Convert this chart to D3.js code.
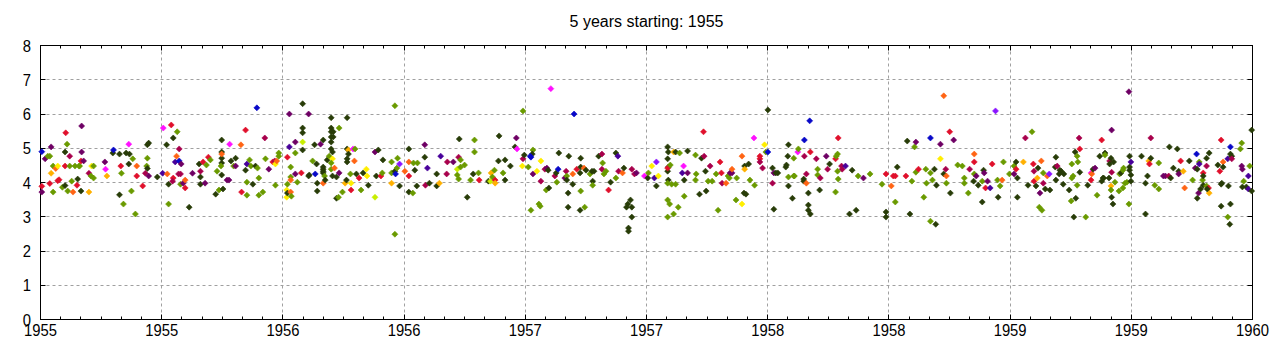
<!DOCTYPE html>
<html><head><meta charset="utf-8">
<script src="https://cdn.jsdelivr.net/npm/d3@7"></script>
<style>body{margin:0;background:#fff}svg{display:block}</style>
</head><body>
<svg id="chart" width="1280" height="350"></svg>
<script>
const chartTitle = "5 years starting: 1955";
const xTickLabels = ["1955","1955","1956","1956","1957","1957","1958","1958","1959","1959","1960"];
const yTickValues = [0,1,2,3,4,5,6,7,8];
// days since 1955-01-01
const eventDay = [
2,2,2,7,16,14,11,14,16,19,19,23,26,26,28,33,37,37,38,40,37,41,44,44,47,49,52,55,56,58,59,61,61,62,62,65,73,73,76,77,80,80,97,98,100,109,110,119,119,121,122,125,129,133,133,134,137,139,143,145,145,154,158,160,161,161,161,163,163,176,184,185,190,191,193,193,197,200,200,199,203,205,206,209,209,208,211,212,211,215,218,218,224,229,239,241,241,241,245,248,250,253,256,
273,273,273,273,273,272,266,273,264,269,275,281,284,285,287,291,294,294,302,303,309,309,311,311,311,315,317,320,324,326,327,329,329,335,338,339,344,350,353,354,356,354,359,359,371,371,372,372,372,375,375,377,377,377,377,378,384,384,384,387,393,395,395,395,395,395,404,404,405,410,413,414,416,417,417,422,426,426,426,426,426,428,426,429,432,435,438,438,438,438,438,438,441,441,440,440,438,438,443,440,446,446,449,450,450,455,459,461,462,462,462,462,464,464,467,468,468,471,474,473,476,480,483,486,491,492,494,504,504,509,506,513,515,516,
534,534,529,529,529,534,535,537,538,541,541,549,555,555,555,555,561,562,564,567,568,579,579,580,583,586,597,597,601,603,612,613,622,630,631,628,628,630,633,633,639,643,648,652,654,654,660,661,675,678,679,681,684,685,685,690,691,697,700,700,708,715,717,718,726,727,727,729,735,739,742,742,741,738,739,748,751,753,754,754,760,763,765,762,766,769,775,777,778,780,781,
790,792,793,793,795,795,796,802,802,804,808,813,814,814,814,813,819,820,822,828,831,832,832,834,841,846,846,847,849,852,856,859,867,870,867,871,877,879,883,885,889,891,891,886,886,891,895,898,910,915,916,921,925,928,928,931,945,946,945,946,945,946,945,949,945,945,948,945,951,954,957,957,954,961,963,969,967,970,970,975,975,987,988,987,993,996,999,1000,1003,1002,1006,1009,1012,1018,1021,1024,1026,1027,1033,1036,1038,1039,1042,1042,
1049,1048,1057,1057,1061,1061,1060,1063,1067,1069,1075,1076,1084,1084,1084,1088,1091,1093,1096,1096,1103,1103,1105,1108,1111,1105,1123,1124,1126,1127,1127,1127,1133,1135,1135,1136,1141,1142,1150,1150,1151,1151,1154,1154,1157,1157,1157,1160,1159,1160,1169,1171,1171,1174,1175,1184,1186,1189,1198,1198,1199,1201,1201,1202,1202,1207,1208,1213,1219,1223,1229,1232,1240,1250,1268,1274,1274,1274,1282,1285,1288,1288,1291,1304,1306,
1310,1313,1317,1319,1319,1323,1331,1334,1335,1341,1341,1341,1344,1347,1349,1350,1356,1356,1361,1361,1364,1365,1365,1370,1371,1376,1382,1389,1392,1392,1398,1400,1406,1407,1407,1407,1410,1413,1419,1419,1421,1422,1424,1427,1431,1434,1439,1442,1443,1446,1449,1451,1460,1467,1467,1470,1470,1472,1472,1481,1484,1488,1494,1496,1497,1497,1500,1502,1503,1506,1508,1511,1511,1514,1517,1520,1521,1505,1509,1529,1530,1532,1530,1536,1538,1535,1541,1542,1550,1553,1554,1554,1556,1559,1560,1557,1562,1562,1563,1565,1566,1566,
1575,1578,1583,1584,1583,1586,1589,1592,1596,1599,1599,1601,1602,1604,1604,1610,1611,1611,1613,1614,1614,1613,1613,1614,1616,1617,1619,1625,1626,1628,1631,1631,1632,1634,1637,1640,1640,1641,1641,1641,1643,1643,1643,1659,1665,1665,1668,1670,1671,1673,1673,1679,1685,1685,1692,1695,1700,1703,1701,1707,1713,1715,1715,1718,1722,1724,1731,1736,1740,1742,1743,1746,1746,1745,1743,1748,1751,1752,1752,1752,1757,1757,1757,1760,1761,1761,1758,1774,1777,1779,1779,1779,1780,1782,1782,1789,1789,1790,1792,1793,1793,1793,1795,1795,1808,1810,1810,1811,1813,1811,1817,1820,1820,1822,1825,1825
];
const magnitude = [
4.90,3.89,3.72,4.69,5.04,3.97,4.77,4.77,4.27,3.72,4.48,4.41,4.48,4.05,4.08,3.86,3.91,4.48,5.45,5.12,4.89,3.75,4.77,4.48,4.04,3.72,4.48,3.92,4.10,4.48,4.48,3.75,4.63,4.89,5.65,4.63,4.27,3.72,4.19,4.48,4.48,4.13,4.60,4.39,4.19,4.86,4.95,4.83,3.64,4.48,4.27,3.37,4.86,5.12,4.54,4.83,3.75,4.69,3.08,4.48,4.19,3.90,4.27,4.48,4.41,4.71,5.10,5.15,4.19,4.16,4.27,5.59,5.10,4.25,3.95,3.37,5.68,5.30,4.13,4.04,4.60,4.77,5.48,4.98,4.63,4.25,4.25,4.54,3.95,3.98,4.07,3.84,3.28,4.27,4.54,4.16,4.33,3.95,4.60,3.98,4.51,4.74,4.66,
5.24,4.89,4.71,4.57,4.83,4.48,4.33,4.22,3.66,3.78,3.81,4.07,4.07,5.12,4.63,4.48,4.71,4.48,5.10,3.72,5.53,4.36,4.54,4.01,3.63,4.66,4.48,3.95,4.48,6.18,4.42,4.13,3.63,3.72,5.30,4.69,4.39,4.60,4.63,4.54,4.63,3.92,4.86,4.77,3.78,3.57,3.69,3.95,4.74,6.00,5.04,4.45,4.16,4.07,3.72,3.60,5.18,4.25,4.86,4.01,4.28,6.30,5.59,5.45,4.95,5.18,6.00,4.19,4.22,4.63,5.10,4.25,4.54,3.98,3.75,5.12,5.24,4.45,4.39,4.33,4.28,4.19,3.98,4.07,4.66,4.77,5.89,5.59,5.48,5.33,5.18,4.98,5.48,5.33,4.89,4.69,4.57,4.39,4.42,4.19,4.16,3.54,3.57,5.59,4.28,3.72,3.98,4.07,5.89,4.98,4.69,4.60,4.95,4.83,4.25,3.98,3.78,4.98,4.98,4.63,4.25,4.13,3.78,4.28,4.39,4.19,3.92,3.57,4.89,4.95,4.19,4.19,4.28,4.66,
6.24,2.49,4.60,4.28,3.98,4.33,4.25,4.42,4.71,4.54,3.90,4.33,4.98,4.60,4.19,3.72,3.69,4.57,4.36,3.90,4.57,5.10,4.74,3.92,4.42,3.98,4.25,3.90,3.98,4.77,4.25,4.60,4.60,4.74,5.27,4.39,4.22,4.10,4.45,4.66,4.51,3.57,4.07,4.25,5.24,4.89,4.28,4.07,4.04,4.04,4.28,4.16,4.36,4.07,3.98,4.63,5.36,4.28,4.66,4.07,4.48,5.04,5.30,4.98,4.48,4.69,6.09,4.80,4.45,3.19,4.25,4.95,4.83,4.77,4.74,4.33,3.37,3.31,4.04,4.63,4.39,4.42,4.36,3.78,3.84,6.74,4.19,4.28,4.01,4.39,4.86,
4.13,4.33,4.19,4.07,3.69,3.28,4.77,4.25,3.95,6.00,4.39,4.28,4.71,4.45,3.75,3.19,4.42,3.28,4.36,4.25,4.33,4.04,3.92,4.33,4.77,4.83,4.39,4.57,4.25,4.33,3.78,4.01,4.86,4.77,4.13,4.33,4.28,4.42,3.28,3.37,3.49,3.28,2.99,2.67,2.58,4.39,4.25,4.28,4.19,4.13,4.28,4.48,4.13,3.90,4.60,4.19,5.04,4.89,4.69,4.45,4.33,4.07,4.42,4.51,3.98,3.49,3.37,2.99,3.95,4.89,4.89,3.95,3.08,3.28,4.86,4.48,4.28,4.07,3.60,4.92,4.28,4.80,4.25,4.07,3.66,4.71,5.48,4.77,3.75,4.33,4.04,4.48,4.04,4.25,3.19,4.60,4.28,3.98,3.98,4.19,4.13,4.28,4.28,4.39,
4.13,3.49,4.77,3.37,4.48,4.39,3.69,3.66,4.54,4.07,5.30,3.92,4.77,4.69,4.60,4.42,5.10,4.89,4.89,6.12,4.42,3.98,4.28,4.28,4.28,3.22,4.45,4.51,4.77,5.10,4.16,3.90,3.54,4.71,4.19,4.19,4.89,4.98,4.10,4.04,4.77,5.24,4.25,3.98,3.69,3.34,3.19,3.08,5.80,4.89,4.69,4.39,4.22,3.78,4.13,4.77,4.39,4.54,4.69,3.72,4.77,4.83,4.33,5.30,4.10,4.48,4.39,4.48,3.08,4.36,3.19,4.19,4.13,4.25,3.95,4.25,3.14,2.99,3.90,4.19,4.19,3.43,4.45,4.19,5.21,
3.08,4.04,5.04,5.18,4.30,4.39,3.57,4.39,3.98,5.30,4.28,2.87,4.07,4.39,2.78,3.92,5.12,4.69,6.53,4.25,4.39,4.19,3.98,5.48,3.69,5.24,4.51,4.48,4.13,3.98,3.69,4.39,4.04,4.83,4.60,4.25,4.19,3.92,4.04,3.43,4.36,4.28,3.84,4.04,3.84,4.54,6.09,4.07,3.57,3.90,4.07,4.60,4.25,4.25,4.48,4.60,4.39,4.13,3.57,4.60,5.30,3.92,5.48,4.54,4.33,4.04,3.90,4.13,4.42,3.69,4.63,4.28,3.98,3.81,4.19,4.25,3.78,3.28,3.19,4.45,4.74,4.48,4.07,4.36,4.33,4.25,3.95,4.25,3.78,3.46,4.54,4.13,4.19,4.89,3.54,2.99,4.77,3.92,4.60,5.30,4.98,4.30,
2.99,3.92,4.28,4.25,4.07,4.39,4.42,3.63,4.77,5.24,4.04,4.13,4.13,4.86,4.80,4.13,4.63,4.54,4.71,5.53,4.30,3.90,3.78,3.57,3.37,4.60,4.01,3.75,4.25,4.28,3.84,4.36,4.42,3.98,4.01,3.37,6.65,4.77,4.45,4.36,4.60,4.22,4.04,4.77,3.98,3.08,4.19,4.63,4.54,4.71,5.30,3.92,4.57,3.81,4.19,4.19,4.19,4.13,5.04,4.42,4.98,4.33,4.25,4.63,4.33,3.84,4.63,4.07,4.42,4.83,4.39,4.60,4.54,3.69,3.54,3.81,4.07,4.28,4.19,3.92,4.71,4.48,3.90,3.84,4.86,3.69,3.81,4.51,4.33,5.24,3.95,3.31,3.98,4.60,4.45,4.69,2.99,3.90,2.78,5.04,4.83,3.37,4.77,4.69,4.98,5.15,4.48,4.39,4.04,3.87,3.87,4.19,3.81,4.48,3.75,5.53
];
const depthClass = (
"BCPPPCGGOGGRYCCGDCCGDGMGGRGCDGGDCPPPMOGYGGPKODBDDCGGDKDDGGGRCCMGDGDDPDIKDRDGCDCMIRGMBMMPGPRCDPDDMDCPGCG" +
"DDDDRGGDDGDPPKDGDPRCCDIGGGGDDBGGGGMGPCMYRGGGYYDGCPIGGRRGPPGGCDDDDLPDDGDBDDDPDDDDDGRDDGDDDDDDDDDYGGRDDDGGPGODDDDDODGYCKGRDCGDYYDLPDDCGD" +
"GGGGODBGGVDRDRCDGGDDGPDMIDDDOIMMPMDLGGGGGDGDGGGCDLOGGCODDGDDDDPKYMGDGGPGDBBYGGMYMPDGDKMDGBD" +
"PMGDDDDRDBCDDDGDRGDGDDGDDMMGGGCDDIGMRDDDDDDDDMMPKDGYIDVYDDDDDDCGGGGGGODGGGGKIDGDPGGGDDCMDDGMGGGCCMRGGPPR" +
"GGRYDODDDGKGCCMMYGBDDMPDDDDDDDGDDGGGKGDDMBMRDDDDBCMGGDMPMDCGGGGCGMMIDDDGPGGCDDRCCGDCD" +
"DGGPGCGGGBGGGDDDPYRDMRGCDPGGGGGMDRCGPDGDDPCPICVGDGRGGPGDCDDOMDGCMCDODPRGMDRVDGGDDMDDDDDDDGGGGDDDGGGMCD" +
"GDKRCDPGDCDDDDGDMDDPMOGDDDGGGDGGGGGGPDDDIDDDDDDOCDMGGGPPMDDDDDPCORDGPBDGIPDDGCDDDMGCDODDCCDDDRDIGDDBDDDMGGPPGDDIIGDD"
).split("");
const depthColor = {D:"#283c08",G:"#6a9a00",L:"#c8ee00",Y:"#ffee00",O:"#ffb000",R:"#ff6414",C:"#e0102c",M:"#a8004c",P:"#6e0064",I:"#48009a",B:"#0808c8",K:"#ff10ff",V:"#8a14ff"};

const m = {left: 40.5, right: 1252.5, top: 45.5, bottom: 319.5};
const totalDays = 5 * 365.25;
const x = d3.scaleLinear().domain([0, totalDays]).range([m.left, m.right]);
const y = d3.scaleLinear().domain([0, 8]).range([m.bottom, m.top]);
const majorX = xTickLabels.map((_, i) => i * totalDays / 10);
const minorX = d3.range(0, 61).map(i => i * totalDays / 60);
const px = v => Math.round(v - 0.5) + 0.5;

const svg = d3.select("#chart");
const font = "'Liberation Sans', Arial, sans-serif";

// grid
const grid = svg.append("g").attr("stroke", "#a0a0a0").attr("stroke-width", 1).attr("stroke-dasharray", "3,3");
grid.selectAll("line.gx").data(majorX.slice(1, -1)).join("line")
  .attr("x1", d => px(x(d))).attr("x2", d => px(x(d)))
  .attr("y1", m.top).attr("y2", m.bottom);
grid.selectAll("line.gy").data(yTickValues.slice(1, -1)).join("line")
  .attr("x1", m.left).attr("x2", m.right)
  .attr("y1", d => px(y(d))).attr("y2", d => px(y(d)));

// ticks (inward) on all sides
const tk = svg.append("g").attr("stroke", "#000").attr("stroke-width", 1);
const vt = (data, y1, y2) => tk.append("g").selectAll("line").data(data).join("line")
  .attr("x1", d => px(x(d))).attr("x2", d => px(x(d))).attr("y1", y1).attr("y2", y2);
vt(minorX, m.bottom, m.bottom - 3);
vt(minorX, m.top, m.top + 3);
vt(majorX, m.bottom, m.bottom - 5);
vt(majorX, m.top, m.top + 5);
const ht = (x1, x2) => tk.append("g").selectAll("line").data(yTickValues).join("line")
  .attr("x1", x1).attr("x2", x2).attr("y1", d => px(y(d))).attr("y2", d => px(y(d)));
ht(m.left, m.left + 5);
ht(m.right, m.right - 5);

// border
svg.append("rect").attr("x", m.left).attr("y", m.top)
  .attr("width", m.right - m.left).attr("height", m.bottom - m.top)
  .attr("fill", "none").attr("stroke", "#000");

// tick labels (narrow face)
const tickSize = 17, squeeze = 0.87;
svg.append("g").selectAll("text").data(majorX).join("text")
  .attr("transform", d => `translate(${x(d)},336) scale(${squeeze},1)`)
  .attr("text-anchor", "middle").attr("font-family", font).attr("font-size", tickSize)
  .attr("fill", "#000").text((d, i) => xTickLabels[i]);
svg.append("g").selectAll("text").data(yTickValues).join("text")
  .attr("transform", d => `translate(31,${y(d) + 6}) scale(${squeeze},1)`)
  .attr("text-anchor", "end").attr("font-family", font).attr("font-size", tickSize)
  .attr("fill", "#000").text(d => d);

// title
svg.append("text").attr("x", (m.left + m.right) / 2).attr("y", 27)
  .attr("text-anchor", "middle").attr("font-family", font).attr("font-size", 16)
  .attr("fill", "#000").text(chartTitle);

// points
const pts = eventDay.map((d, i) => ({d, mag: magnitude[i], c: depthClass[i]}));
const diamond = "M0,-3L3,0L0,3L-3,0Z";
svg.append("g").selectAll("path").data(pts).join("path")
  .attr("d", diamond)
  .attr("transform", p => `translate(${x(p.d)},${y(p.mag)})`)
  .attr("fill", p => depthColor[p.c] || "#000")
  .attr("stroke", p => depthColor[p.c] || "#000").attr("stroke-width", 0.6);
</script>
</body></html>
